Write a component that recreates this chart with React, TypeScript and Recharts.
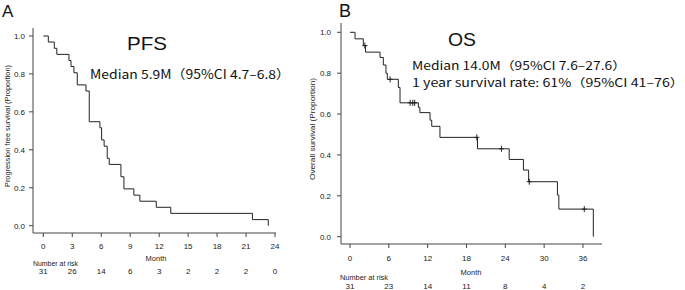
import { ComposedChart, Line, Scatter, XAxis, YAxis } from "recharts";

// PFS (panel A) step curve
const pfsMonths = [0, 0.52, 1.14, 1.4, 2.66, 2.87, 3.17, 3.52, 4.42, 4.76, 5.86, 6.04, 6.3, 6.62, 6.83, 8.04, 8.35, 9.38, 10.0, 11.7, 13.2, 21.66, 23.3];
const pfsSurvival = [1.0, 0.968, 0.935, 0.903, 0.871, 0.839, 0.806, 0.742, 0.71, 0.548, 0.516, 0.452, 0.419, 0.355, 0.323, 0.258, 0.194, 0.161, 0.129, 0.097, 0.065, 0.032, 0.0];
const pfsTicks = [0, 3, 6, 9, 12, 15, 18, 21, 24];
const pfsAtRisk = [31, 26, 14, 6, 3, 2, 2, 2, 0];

// OS (panel B)
const osMonths = [0, 0.78, 2.06, 2.4, 4.64, 5.15, 5.56, 5.76, 7.47, 7.73, 10.56, 10.8, 12.37, 12.63, 13.9, 19.7, 24.6, 26.8, 27.6, 32.05, 32.27, 37.6];
const osSurvival = [1.0, 0.968, 0.935, 0.903, 0.877, 0.84, 0.8, 0.77, 0.73, 0.655, 0.633, 0.607, 0.57, 0.54, 0.486, 0.43, 0.378, 0.326, 0.269, 0.204, 0.135, 0.0];
const osCensorMonths = [2.3, 6.2, 9.3, 9.7, 10.0, 19.6, 23.4, 27.7, 36.2];
const osCensorSurvival = [0.935, 0.77, 0.655, 0.655, 0.655, 0.486, 0.43, 0.269, 0.135];
const osTicks = [0, 6, 12, 18, 24, 30, 36];
const osAtRisk = [31, 23, 14, 11, 8, 4, 2];

const yTicks = [0, 0.2, 0.4, 0.6, 0.8, 1.0];

const toPoints = (m: number[], s: number[]) => m.map((x, i) => ({ m: x, s: s[i] }));

const LINE = "#222";
const AXIS = "#444";
const SANS = "'Liberation Sans', Arial, sans-serif";
const JP = "'Noto Sans CJK JP', 'Noto Sans', sans-serif";

function makeTick(ticks: number[], atRisk: number[], riskOffset: number) {
  return (props: any) => {
    const { x, y, payload } = props;
    const i = ticks.indexOf(payload.value);
    return (
      <g>
        <text x={x} y={y} dy="0.71em" textAnchor="middle" fontSize={8} fontFamily={SANS} fill="#222">
          {payload.value}
        </text>
        <text x={x} y={y + riskOffset} dy="0.71em" textAnchor="middle" fontSize={8} fontFamily={SANS} fill="#222">
          {i >= 0 ? atRisk[i] : ""}
        </text>
      </g>
    );
  };
}

const censorShape = (props: any) => {
  const { cx, cy } = props;
  return <path d={`M${cx - 2.5},${cy}h5M${cx},${cy - 3}v6`} stroke={LINE} strokeWidth={1} fill="none" />;
};

function PfsChart() {
  return (
    <ComposedChart width={300} height={290} margin={{ top: 28, right: 24, bottom: 27, left: 11 }}>
      <XAxis
        type="number"
        dataKey="m"
        domain={[-1.067, 24.1]}
        allowDataOverflow
        ticks={pfsTicks}
        interval={0}
        height={30}
        tickSize={4}
        tickMargin={6}
        stroke={AXIS}
        tick={makeTick(pfsTicks, pfsAtRisk, 25)}
      />
      <YAxis
        type="number"
        domain={[-0.0385, 1.042]}
        allowDataOverflow
        ticks={yTicks}
        interval={0}
        width={22}
        tickSize={4}
        tickMargin={4}
        stroke={AXIS}
        tickFormatter={(v: number) => v.toFixed(1)}
        tick={{ fontSize: 8, fontFamily: SANS, fill: "#222" }}
      />
      <Line
        data={toPoints(pfsMonths, pfsSurvival)}
        dataKey="s"
        type="stepAfter"
        stroke={LINE}
        strokeWidth={1}
        dot={false}
        isAnimationActive={false}
      />
    </ComposedChart>
  );
}

function OsChart() {
  return (
    <ComposedChart width={385} height={290} margin={{ top: 23, right: 83, bottom: 16, left: 19 }}>
      <XAxis
        type="number"
        dataKey="m"
        domain={[-1.39, 38.94]}
        allowDataOverflow
        ticks={osTicks}
        interval={0}
        height={30}
        tickSize={4}
        tickMargin={7}
        stroke={AXIS}
        tick={makeTick(osTicks, osAtRisk, 28)}
      />
      <YAxis
        type="number"
        domain={[-0.0357, 1.0455]}
        allowDataOverflow
        ticks={yTicks}
        interval={0}
        width={22}
        tickSize={4}
        tickMargin={6}
        stroke={AXIS}
        tickFormatter={(v: number) => v.toFixed(1)}
        tick={{ fontSize: 8, fontFamily: SANS, fill: "#222" }}
      />
      <Line
        data={toPoints(osMonths, osSurvival)}
        dataKey="s"
        type="stepAfter"
        stroke={LINE}
        strokeWidth={1}
        dot={false}
        isAnimationActive={false}
      />
      <Scatter
        data={toPoints(osCensorMonths, osCensorSurvival)}
        dataKey="s"
        shape={censorShape}
        isAnimationActive={false}
      />
    </ComposedChart>
  );
}

export default function App() {
  return (
    <div style={{ position: "absolute", left: 0, top: 0, width: 685, height: 290, background: "#fff", overflow: "hidden" }}>
      <div style={{ position: "absolute", left: 0, top: 0 }}>
        <PfsChart />
      </div>
      <div style={{ position: "absolute", left: 300, top: 0 }}>
        <OsChart />
      </div>
      <svg width={685} height={290} style={{ position: "absolute", left: 0, top: 0, pointerEvents: "none" }}>
        <text x={2} y={17} fontSize={17} fontFamily={SANS} fill="#111">A</text>
        <text x={339} y={17} fontSize={18} fontFamily={SANS} fill="#111">B</text>

        <text x={127} y={50} fontSize={18.5} fontFamily={SANS} fill="#111" textLength={40} lengthAdjust="spacingAndGlyphs">PFS</text>
        <text x={90} y={79} fontSize={12.5} fontFamily={JP} fill="#111" textLength={200} lengthAdjust="spacingAndGlyphs">Median 5.9M（95%CI 4.7–6.8）</text>

        <text x={448} y={46} fontSize={19} fontFamily={SANS} fill="#111" textLength={28} lengthAdjust="spacingAndGlyphs">OS</text>
        <text x={412} y={69.5} fontSize={11.5} fontFamily={JP} fill="#111" textLength={214} lengthAdjust="spacingAndGlyphs">Median 14.0M（95%CI 7.6–27.6）</text>
        <text x={412} y={86.5} fontSize={11.5} fontFamily={JP} fill="#111" textLength={272} lengthAdjust="spacingAndGlyphs">1 year survival rate: 61%（95%CI 41–76）</text>

        <text transform="translate(10,126) rotate(-90)" textAnchor="middle" fontSize={7} fontFamily={SANS} fill="#222" textLength={122} lengthAdjust="spacingAndGlyphs">Progression free survival (Proportion)</text>
        <text transform="translate(315,129) rotate(-90)" textAnchor="middle" fontSize={7} fontFamily={SANS} fill="#222" textLength={102} lengthAdjust="spacingAndGlyphs">Overall survival (Proportion)</text>

        <text x={156} y={261} textAnchor="middle" fontSize={7.5} fontFamily={SANS} fill="#222">Month</text>
        <text x={471} y={275} textAnchor="middle" fontSize={7.5} fontFamily={SANS} fill="#222">Month</text>
        <text x={33} y={266} fontSize={7.5} fontFamily={SANS} fill="#222" textLength={45} lengthAdjust="spacingAndGlyphs">Number at risk</text>
        <text x={340} y={279.5} fontSize={7.5} fontFamily={SANS} fill="#222" textLength={48} lengthAdjust="spacingAndGlyphs">Number at risk</text>
      </svg>
    </div>
  );
}
